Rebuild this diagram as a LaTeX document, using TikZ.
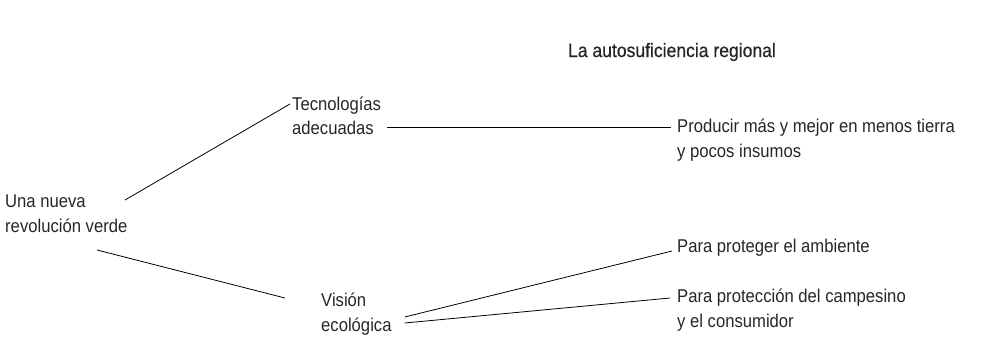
\documentclass[tikz,border=0pt]{standalone}
\usepackage{fontspec}
\setmainfont[FakeStretch=0.9]{Liberation Sans}
\newfontfamily\titulofont[FakeStretch=0.9, FakeBold=0.6]{Liberation Sans}

\tikzset{
  texto/.style={inner sep=0pt, font=\fontsize{18.5}{24.5}\selectfont, text=black!85},
  rama/.style={line width=0.8pt}
}

\begin{document}
\begin{tikzpicture}[x=1pt, y=-1pt]
\useasboundingbox (0,0) rectangle (993,337);

%Título
\node[texto, font=\titulofont\fontsize{19.5}{22}\selectfont] (titulo) at (672,52) {La autosuficiencia regional};

%Ideas
\node[texto, anchor=west, align=left] (una) at (5,213.5) {Una nueva\\revolución verde};
\node[texto, anchor=west, align=left] (tec) at (292,116) {Tecnologías\\adecuadas};
\node[texto, anchor=west, align=left] (vis) at (321,314) {Visión\\ecológica};
\node[texto, anchor=west, align=left] (prod) at (677,140) {Producir más y mejor en menos tierra\\y pocos insumos};
\node[texto, anchor=west, align=left] (amb) at (677,248) {Para proteger el ambiente};
\node[texto, anchor=west, align=left] (camp) at (677,310) {Para protección del campesino\\y el consumidor};

%Ramas
\draw[rama] ([shift={(120,-13.5)}]una.west) -- ([shift={(-2,-12)}]tec.west);
\draw[rama] ([shift={(92,36.5)}]una.west) -- ([shift={(-36,-16)}]vis.west);
\draw[rama] ([shift={(6,11)}]tec.east) -- ([shift={(-6,-13)}]prod.west);
\draw[rama] ([shift={(13,3)}]vis.east) -- ([shift={(-5,3)}]amb.west);
\draw[rama] ([shift={(13,9)}]vis.east) -- ([shift={(-7,-12)}]camp.west);

\end{tikzpicture}
\end{document}
